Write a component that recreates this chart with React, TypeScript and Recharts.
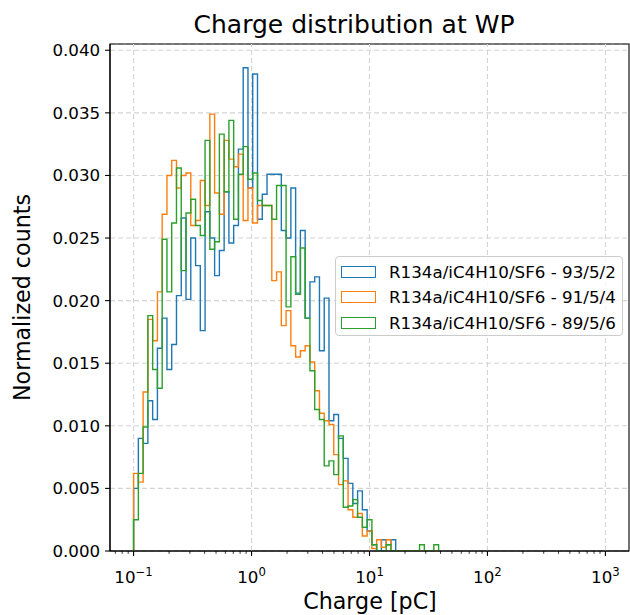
import React from 'react';
import { LineChart, Line, XAxis, YAxis, CartesianGrid, ReferenceLine, ReferenceArea, Legend } from 'recharts';

const FONT = '"DejaVu Sans", Verdana, sans-serif';

// Histogram binning: log-spaced bins from 10^-1 to 10^3
const BIN_LOG_MIN = -1;
const BIN_LOG_MAX = 3;
const BIN_COUNT = 99;

const SERIES_NAMES = [
  'R134a/iC4H10/SF6 - 93/5/2',
  'R134a/iC4H10/SF6 - 91/5/4',
  'R134a/iC4H10/SF6 - 89/5/6',
];
const SERIES_KEYS = ['mix93', 'mix91', 'mix89'];
const SERIES_COLORS = ['#1f77b4', '#ff7f0e', '#2ca02c'];

// Normalized counts per bin (bin 0 starts at 0.1 pC); later bins are empty
const MIX_93 = [
  0.0050, 0.0090, 0.0086, 0.0120, 0.0105, 0.0162, 0.0186, 0.0145, 0.0165, 0.0204,
  0.0266, 0.0201, 0.0250, 0.0228, 0.0176, 0.0271, 0.0250, 0.0220, 0.0240, 0.0287,
  0.0246, 0.0260, 0.0321, 0.0386, 0.0290, 0.0381, 0.0265, 0.0285, 0.0301, 0.0301,
  0.0301, 0.0256, 0.0250, 0.0290, 0.0206, 0.0256, 0.0186, 0.0215, 0.0219, 0.0160,
  0.0202, 0.0104, 0.0109, 0.0090, 0.0074, 0.0054, 0.0038, 0.0048, 0.0033, 0.0016,
  0.0005, 0.0000, 0.0009, 0.0005, 0.0009,
];
const MIX_91 = [
  0.0062, 0.0055, 0.0127, 0.0185, 0.0168, 0.0207, 0.0269, 0.0300, 0.0312, 0.0290,
  0.0300, 0.0302, 0.0260, 0.0264, 0.0296, 0.0276, 0.0349, 0.0286, 0.0269, 0.0328,
  0.0313, 0.0307, 0.0317, 0.0264, 0.0290, 0.0262, 0.0276, 0.0276, 0.0276, 0.0216,
  0.0223, 0.0180, 0.0192, 0.0164, 0.0155, 0.0160, 0.0164, 0.0151, 0.0128, 0.0110,
  0.0104, 0.0101, 0.0077, 0.0053, 0.0056, 0.0033, 0.0027, 0.0030, 0.0012, 0.0016,
  0.0002, 0.0009, 0.0003, 0.0009,
];
const MIX_89 = [
  0.0025, 0.0062, 0.0099, 0.0188, 0.0145, 0.0130, 0.0249, 0.0207, 0.0262, 0.0306,
  0.0224, 0.0270, 0.0281, 0.0260, 0.0252, 0.0328, 0.0241, 0.0247, 0.0333, 0.0287,
  0.0344, 0.0265, 0.0301, 0.0323, 0.0297, 0.0302, 0.0280, 0.0276, 0.0276, 0.0265,
  0.0292, 0.0292, 0.0195, 0.0235, 0.0205, 0.0242, 0.0186, 0.0144, 0.0113, 0.0105,
  0.0068, 0.0072, 0.0061, 0.0092, 0.0035, 0.0036, 0.0041, 0.0027, 0.0019, 0.0025,
  0.0005, 0, 0, 0.0005, 0, 0, 0, 0, 0, 0,
  0.0005, 0, 0, 0.0005,
];

const Y_TICKS = [0, 0.005, 0.01, 0.015, 0.02, 0.025, 0.03, 0.035, 0.04];
const X_MAJOR = [0.1, 1, 10, 100, 1000];
const X_MAJOR_EXP = ['\u22121', '0', '1', '2', '3'];
const X_MINOR = [
  0.07, 0.08, 0.09,
  0.2, 0.3, 0.4, 0.5, 0.6, 0.7, 0.8, 0.9,
  2, 3, 4, 5, 6, 7, 8, 9,
  20, 30, 40, 50, 60, 70, 80, 90,
  200, 300, 400, 500, 600, 700, 800, 900,
];

const X_DOMAIN = [Math.pow(10, -1.2), Math.pow(10, 3.2)];
const Y_DOMAIN = [0, 0.0405];

const edge = (k: number) => Math.pow(10, BIN_LOG_MIN + ((BIN_LOG_MAX - BIN_LOG_MIN) * k) / BIN_COUNT);

const SERIES_VALUES = [MIX_93, MIX_91, MIX_89];
const nBins = Math.max(...SERIES_VALUES.map((s) => s.length));
const rows: any[] = [];
{
  const start: any = { x: edge(0) };
  SERIES_KEYS.forEach((k) => (start[k] = 0));
  rows.push(start);
  for (let b = 0; b < nBins; b++) {
    const r: any = { x: edge(b) };
    SERIES_KEYS.forEach((k, i) => (r[k] = SERIES_VALUES[i][b] ?? 0));
    rows.push(r);
  }
  const end: any = { x: edge(nBins) };
  SERIES_KEYS.forEach((k) => (end[k] = 0));
  rows.push(end);
}

const ALL_X_TICKS = [...X_MAJOR, ...X_MINOR].sort((a, b) => a - b);

const XTick = (props: any) => {
  const { x, y, payload } = props;
  const v = payload.value;
  const idx = X_MAJOR.findIndex((m) => Math.abs(m - v) / m < 1e-6);
  if (idx < 0) {
    return <line x1={x} x2={x} y1={y} y2={y + 2.8} stroke="#000" strokeWidth={0.8} />;
  }
  return (
    <g>
      <line x1={x} x2={x} y1={y} y2={y + 4.9} stroke="#000" strokeWidth={1.1} />
      <text x={x} y={y + 32} textAnchor="middle" fontFamily={FONT} fontSize={16.7} fill="#000">
        10
        <tspan dy={-7} fontSize={11.7}>
          {X_MAJOR_EXP[idx]}
        </tspan>
      </text>
    </g>
  );
};

const renderLegend = (props: any) => {
  const payload = [...(props.payload || [])].sort(
    (a: any, b: any) => SERIES_KEYS.indexOf(a.dataKey) - SERIES_KEYS.indexOf(b.dataKey)
  );
  return (
    <div
      style={{
        position: 'relative',
        width: 288,
        height: 80,
        boxSizing: 'border-box',
        border: '1px solid #cccccc',
        borderRadius: 4,
        background: 'rgba(255,255,255,0.8)',
      }}
    >
      {payload.map((entry: any, i: number) => (
        <div
          key={i}
          style={{
            position: 'absolute',
            left: 5,
            top: 4.5 + i * 25.5,
            height: 20,
            display: 'flex',
            alignItems: 'center',
            whiteSpace: 'nowrap',
          }}
        >
          <span
            style={{
              display: 'inline-block',
              width: 35,
              height: 12,
              boxSizing: 'border-box',
              border: `1.4px solid ${entry.color}`,
              background: '#fff',
            }}
          />
          <span style={{ marginLeft: 13, fontFamily: FONT, fontSize: 16.7, color: '#000', lineHeight: '20px' }}>
            {entry.value}
          </span>
        </div>
      ))}
    </div>
  );
};

export default function App() {
  return (
    <div style={{ position: 'absolute', left: 0, top: 0, width: 630, height: 615, background: '#fff' }}>
      <LineChart
        width={630}
        height={615}
        data={rows}
        margin={{ top: 44, right: 1, bottom: 0, left: 0 }}
      >
        <CartesianGrid vertical={false} stroke="#d4d4d4" strokeDasharray="5 3" strokeWidth={1.1} />
        {X_MAJOR.map((m) => (
          <ReferenceLine key={m} x={m} stroke="#d4d4d4" strokeDasharray="5 3" strokeWidth={1.1} />
        ))}
        <XAxis
          dataKey="x"
          type="number"
          scale="log"
          domain={X_DOMAIN}
          allowDataOverflow
          ticks={ALL_X_TICKS}
          interval={0}
          height={64}
          tickSize={0}
          tickMargin={0}
          tickLine={false}
          tick={<XTick />}
          axisLine={{ stroke: '#000', strokeWidth: 1.1 }}
        />
        <YAxis
          type="number"
          domain={Y_DOMAIN}
          allowDataOverflow
          ticks={Y_TICKS}
          interval={0}
          width={110}
          tickSize={4.9}
          tickMargin={4.9}
          tickFormatter={(v: number) => v.toFixed(3)}
          tick={{ fill: '#000', fontSize: 16.7, fontFamily: FONT }}
          tickLine={{ stroke: '#000', strokeWidth: 1.1 }}
          axisLine={{ stroke: '#000', strokeWidth: 1.1 }}
        />
        {SERIES_KEYS.map((k, i) => (
          <Line
            key={k}
            dataKey={k}
            name={SERIES_NAMES[i]}
            type="stepAfter"
            stroke={SERIES_COLORS[i]}
            strokeWidth={1.4}
            dot={false}
            activeDot={false}
            isAnimationActive={false}
          />
        ))}
        <ReferenceArea
          x1={X_DOMAIN[0]}
          x2={X_DOMAIN[1]}
          y1={Y_DOMAIN[0]}
          y2={Y_DOMAIN[1]}
          fill="none"
          fillOpacity={0}
          stroke="#000"
          strokeWidth={1.1}
          ifOverflow="visible"
        />
        <Legend
          layout="vertical"
          align="center"
          verticalAlign="middle"
          width={288}
          height={80}
          content={renderLegend}
          wrapperStyle={{ position: 'absolute', left: 335, top: 256, width: 288, height: 80 }}
        />
      </LineChart>
      <svg
        width={630}
        height={615}
        style={{ position: 'absolute', left: 0, top: 0, pointerEvents: 'none' }}
      >
        <text x={354} y={33} textAnchor="middle" fontFamily={FONT} fontSize={25} fill="#000">
          Charge distribution at WP
        </text>
        <text x={370} y={609} textAnchor="middle" fontFamily={FONT} fontSize={22.2} fill="#000">
          Charge [pC]
        </text>
        <text
          x={0}
          y={0}
          transform="translate(30,297.5) rotate(-90)"
          textAnchor="middle"
          fontFamily={FONT}
          fontSize={22.2}
          fill="#000"
        >
          Normalized counts
        </text>
      </svg>
    </div>
  );
}
